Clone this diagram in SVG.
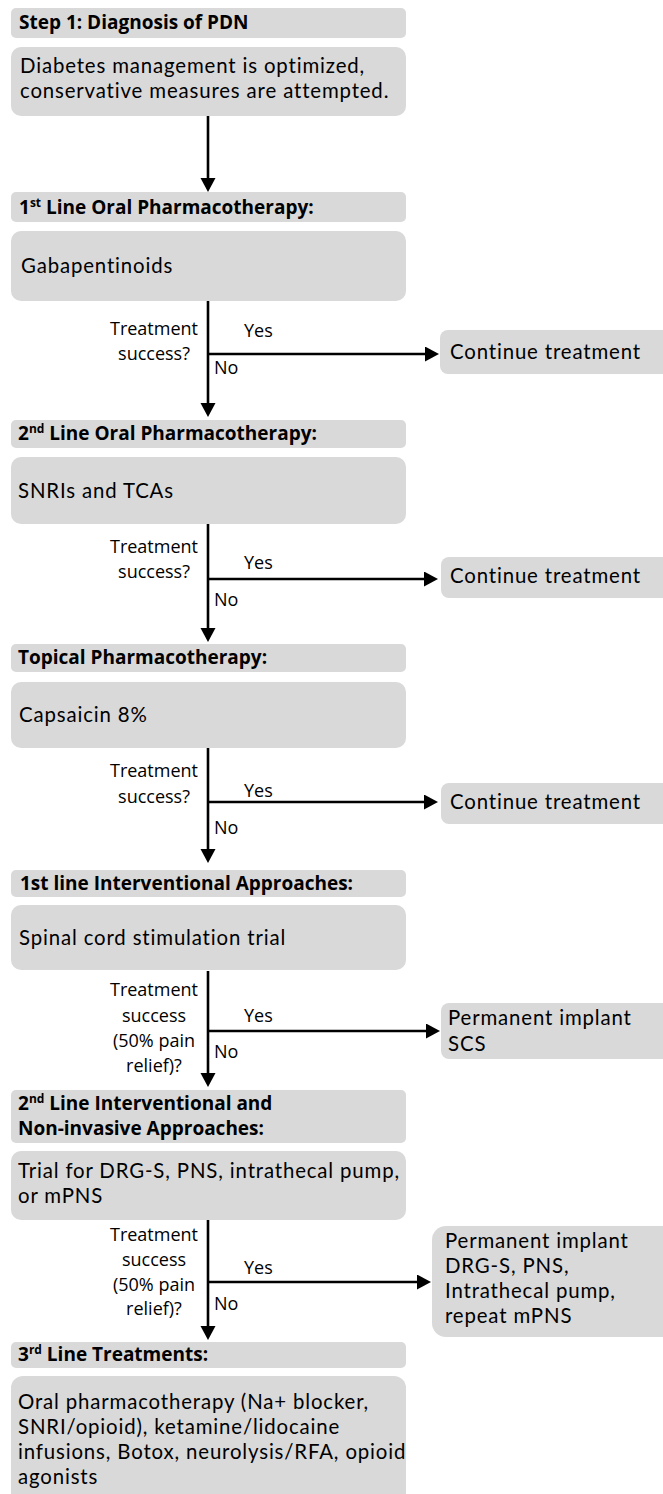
<svg xmlns="http://www.w3.org/2000/svg" width="663" height="1494" viewBox="0 0 663 1494">
<style>
  .box{fill:#d9d9d9}
  .hd{font-family:"Open Sans","Liberation Sans",sans-serif;font-weight:bold;font-size:19px;fill:#000}
  .sup{font-size:12px}
  .tx{font-family:Lato,"Open Sans",sans-serif;font-size:20.4px;letter-spacing:0.85px;fill:#000}
  .lb{font-family:"Open Sans","Liberation Sans",sans-serif;font-size:18px;fill:#000}
  .mid{text-anchor:middle}
  .ln{stroke:#000;stroke-width:2.6;fill:none;marker-end:url(#ah)}
</style>
<defs>
  <marker id="ah" markerUnits="userSpaceOnUse" markerWidth="15" markerHeight="16" refX="2" refY="7.5" orient="auto">
    <path d="M0,0 L14,7.5 L0,15 Z" fill="#000"/>
  </marker>
</defs>
<rect width="663" height="1494" fill="#fff"/>

<g id="connectors">
  <line class="ln" x1="208" y1="116" x2="208" y2="180"/>
  <line class="ln" x1="208" y1="301" x2="208" y2="405"/>
  <line class="ln" x1="207" y1="354" x2="427" y2="354"/>
  <line class="ln" x1="208" y1="524" x2="208" y2="630"/>
  <line class="ln" x1="207" y1="579" x2="426" y2="579"/>
  <line class="ln" x1="208" y1="748" x2="208" y2="851"/>
  <line class="ln" x1="207" y1="802" x2="426" y2="802"/>
  <line class="ln" x1="208" y1="971" x2="208" y2="1075"/>
  <line class="ln" x1="207" y1="1031" x2="428" y2="1031"/>
  <line class="ln" x1="208" y1="1220" x2="208" y2="1328"/>
  <line class="ln" x1="207" y1="1282" x2="419" y2="1282"/>
</g>

<g id="labels">
  <text class="lb mid" x="154" y="335">Treatment</text>
  <text class="lb mid" x="154" y="360">success?</text>
  <text class="lb" x="244" y="337">Yes</text>
  <text class="lb" x="214" y="374">No</text>

  <text class="lb mid" x="154" y="553">Treatment</text>
  <text class="lb mid" x="154" y="578">success?</text>
  <text class="lb" x="244" y="569">Yes</text>
  <text class="lb" x="214" y="606">No</text>

  <text class="lb mid" x="154" y="777">Treatment</text>
  <text class="lb mid" x="154" y="803">success?</text>
  <text class="lb" x="244" y="797">Yes</text>
  <text class="lb" x="214" y="834">No</text>

  <text class="lb mid" x="154" y="996">Treatment</text>
  <text class="lb mid" x="154" y="1022">success</text>
  <text class="lb mid" x="154" y="1047">(50% pain</text>
  <text class="lb mid" x="154" y="1072">relief)?</text>
  <text class="lb" x="244" y="1022">Yes</text>
  <text class="lb" x="214" y="1058">No</text>

  <text class="lb mid" x="154" y="1241">Treatment</text>
  <text class="lb mid" x="154" y="1266">success</text>
  <text class="lb mid" x="154" y="1291">(50% pain</text>
  <text class="lb mid" x="154" y="1315">relief)?</text>
  <text class="lb" x="244" y="1274">Yes</text>
  <text class="lb" x="214" y="1310">No</text>
</g>

<g id="step1">
  <rect class="box" x="11" y="8" width="395" height="30" rx="5"/>
  <text class="hd" x="19" y="29">Step 1: Diagnosis of PDN</text>
</g>
<g id="diabetes">
  <rect class="box" x="11" y="47" width="395" height="69" rx="10"/>
  <text class="tx" x="20" y="72.5">Diabetes management is optimized,</text>
  <text class="tx" x="20" y="97.5">conservative measures are attempted.</text>
</g>
<g id="line1-header">
  <rect class="box" x="11" y="192" width="395" height="30" rx="5"/>
  <text class="hd" x="19" y="214">1<tspan class="sup" dy="-7">st</tspan><tspan dy="7"> Line Oral Pharmacotherapy:</tspan></text>
</g>
<g id="gabapentinoids">
  <rect class="box" x="11" y="231" width="395" height="70" rx="10"/>
  <text class="tx" x="21" y="273">Gabapentinoids</text>
</g>
<g id="continue1">
  <rect class="box" x="440" y="330" width="240" height="44" rx="8"/>
  <text class="tx" x="450" y="359">Continue treatment</text>
</g>
<g id="line2-header">
  <rect class="box" x="11" y="420" width="395" height="28" rx="5"/>
  <text class="hd" x="18" y="440">2<tspan class="sup" dy="-7">nd</tspan><tspan dy="7"> Line Oral Pharmacotherapy:</tspan></text>
</g>
<g id="snris">
  <rect class="box" x="11" y="457" width="395" height="67" rx="10"/>
  <text class="tx" x="18" y="498">SNRIs and TCAs</text>
</g>
<g id="continue2">
  <rect class="box" x="441" y="557" width="240" height="41" rx="8"/>
  <text class="tx" x="450" y="583">Continue treatment</text>
</g>
<g id="topical-header">
  <rect class="box" x="11" y="644" width="395" height="28" rx="5"/>
  <text class="hd" x="18" y="664">Topical Pharmacotherapy:</text>
</g>
<g id="capsaicin">
  <rect class="box" x="11" y="682" width="395" height="66" rx="10"/>
  <text class="tx" x="19" y="722">Capsaicin 8%</text>
</g>
<g id="continue3">
  <rect class="box" x="441" y="783" width="240" height="41" rx="8"/>
  <text class="tx" x="450" y="809">Continue treatment</text>
</g>
<g id="interv1-header">
  <rect class="box" x="11" y="870" width="395" height="27" rx="5"/>
  <text class="hd" x="20" y="890">1st line Interventional Approaches:</text>
</g>
<g id="scs-trial">
  <rect class="box" x="11" y="905" width="395" height="65" rx="10"/>
  <text class="tx" x="19" y="945">Spinal cord stimulation trial</text>
</g>
<g id="scs-permanent">
  <rect class="box" x="441" y="1003" width="240" height="56" rx="8"/>
  <text class="tx" x="448" y="1025">Permanent implant</text>
  <text class="tx" x="448" y="1051">SCS</text>
</g>
<g id="interv2-header">
  <rect class="box" x="11" y="1090" width="395" height="53" rx="5"/>
  <text class="hd" x="18" y="1110">2<tspan class="sup" dy="-7">nd</tspan><tspan dy="7"> Line Interventional and</tspan></text>
  <text class="hd" x="18" y="1135">Non-invasive Approaches:</text>
</g>
<g id="trial2">
  <rect class="box" x="11" y="1151" width="395" height="69" rx="10"/>
  <text class="tx" x="18" y="1178">Trial for DRG-S, PNS, intrathecal pump,</text>
  <text class="tx" x="18" y="1203">or mPNS</text>
</g>
<g id="permanent2">
  <rect class="box" x="432" y="1226" width="245" height="111" rx="14"/>
  <text class="tx" x="445" y="1248">Permanent implant</text>
  <text class="tx" x="445" y="1273">DRG-S, PNS,</text>
  <text class="tx" x="445" y="1298">Intrathecal pump,</text>
  <text class="tx" x="445" y="1323">repeat mPNS</text>
</g>
<g id="line3-header">
  <rect class="box" x="11" y="1342" width="395" height="26" rx="5"/>
  <text class="hd" x="18" y="1361">3<tspan class="sup" dy="-7">rd</tspan><tspan dy="7"> Line Treatments:</tspan></text>
</g>
<g id="line3-box">
  <rect class="box" x="11" y="1376" width="395" height="140" rx="12"/>
  <text class="tx" x="18" y="1409">Oral pharmacotherapy (Na+ blocker,</text>
  <text class="tx" x="18" y="1434">SNRI/opioid), ketamine/lidocaine</text>
  <text class="tx" x="18" y="1459">infusions, Botox, neurolysis/RFA, opioid</text>
  <text class="tx" x="18" y="1484">agonists</text>
</g>
</svg>
